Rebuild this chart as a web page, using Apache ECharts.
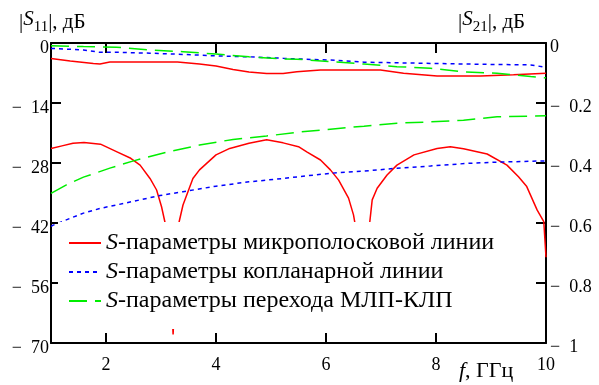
<!DOCTYPE html>
<html><head><meta charset="utf-8">
<script src="https://cdn.jsdelivr.net/npm/echarts@6/dist/echarts.min.js"></script>
<style>html,body{margin:0;padding:0;background:#fff}#c{width:599px;height:385px}</style>
</head><body><div id="c"></div>
<script>
// Frequency ticks (GHz)
const xTicks = [2, 4, 6, 8, 10];
// Legend names
const names = [
  'S-параметры микрополосковой линии',
  'S-параметры копланарной линии',
  'S-параметры перехода МЛП-КЛП'
];
// |S11|, dB (left axis) — [f, dB]
const s11Micro = [[1.0,-24.6],[1.2,-24.0],[1.4,-23.4],[1.6,-23.2],[1.9,-23.6],[2.2,-25.4],[2.45,-26.9],[2.62,-28.5],[2.8,-31.6],[2.92,-34.3],[3.01,-38.2],[3.07,-41.7],[3.13,-47],[3.18,-56],[3.22,-68],[3.26,-57],[3.3,-47],[3.33,-41.7],[3.4,-37.8],[3.58,-31.6],[3.7,-29.6],[4.0,-26.1],[4.25,-24.6],[4.6,-23.4],[4.92,-22.6],[5.22,-23.3],[5.5,-24.2],[5.65,-25.4],[5.9,-27.3],[6.08,-29.6],[6.23,-32],[6.41,-36.2],[6.5,-40.1],[6.58,-46],[6.67,-58],[6.76,-46],[6.84,-36.6],[6.93,-33.9],[7.11,-30.8],[7.29,-28.5],[7.6,-26.1],[8.02,-24.6],[8.26,-24.2],[8.5,-24.7],[8.93,-25.9],[9.29,-28.5],[9.5,-31.2],[9.65,-33.5],[9.84,-39],[9.96,-41.7],[10.0,-50]];
const s11Copl = [[1.0,-42.8],[1.04,-42.5],[1.35,-40.9],[1.59,-39.7],[1.89,-38.6],[2.19,-37.8],[2.62,-36.6],[2.98,-35.6],[3.4,-34.7],[4.0,-33.4],[4.6,-32.4],[5.22,-31.6],[5.5,-31.2],[6.08,-30.4],[6.78,-29.8],[7.29,-29.2],[7.9,-28.7],[8.56,-28.1],[9.11,-27.8],[10.0,-27.5]];
const s11Trans = [[1.0,-35.1],[1.28,-33.1],[1.59,-31.3],[2.07,-29.2],[2.5,-27.5],[3.1,-25.5],[3.7,-23.8],[4.31,-22.5],[4.92,-21.7],[5.5,-20.8],[6.08,-20.1],[6.69,-19.4],[7.29,-18.7],[7.9,-18.4],[8.5,-18.0],[9.11,-17.2],[10.0,-17.0]];
// |S21|, dB (right axis) — [f, dB]
const s21Micro = [[1.0,-0.052],[1.35,-0.06],[1.77,-0.068],[1.89,-0.07],[2.07,-0.063],[2.5,-0.063],[3.3,-0.063],[3.7,-0.07],[4.0,-0.077],[4.31,-0.088],[4.6,-0.097],[4.92,-0.102],[5.22,-0.102],[5.47,-0.096],[5.9,-0.09],[6.99,-0.09],[7.41,-0.101],[8.02,-0.11],[8.81,-0.11],[9.41,-0.106],[10.0,-0.101]];
const s21Copl = [[1.0,-0.018],[1.59,-0.023],[1.89,-0.031],[2.19,-0.031],[2.8,-0.034],[3.4,-0.038],[4.0,-0.043],[4.6,-0.046],[5.22,-0.051],[5.47,-0.053],[6.08,-0.057],[6.69,-0.064],[7.9,-0.068],[8.81,-0.071],[9.72,-0.073],[10.0,-0.081]];
const s21Trans = [[1.0,-0.009],[1.59,-0.012],[2.19,-0.014],[2.8,-0.023],[3.4,-0.029],[4.0,-0.037],[4.6,-0.046],[5.22,-0.053],[5.47,-0.054],[6.08,-0.062],[6.69,-0.07],[7.29,-0.079],[7.9,-0.084],[8.5,-0.096],[9.11,-0.101],[9.72,-0.112],[10.0,-0.116]];

const FONT = '"Liberation Serif","DejaVu Serif",serif';
const RED = '#ff0000', BLUE = '#0000ff', GREEN = '#00ee00';
const styles = [
  {color: RED, type: 'solid'},
  {color: BLUE, type: [4, 4]},
  {color: GREEN, type: [18, 8]}
];
function mkSeries(name, data, yIdx, st) {
  return {
    type: 'line', name: name, data: data, yAxisIndex: yIdx, xAxisIndex: 0,
    showSymbol: false, symbol: 'none', animation: false, silent: true,
    lineStyle: {color: st.color, width: 1.5, type: st.type},
    itemStyle: {color: st.color}
  };
}
const axisLineStyle = {lineStyle: {color: '#000', width: 2}};
const tickStyle = {inside: true, length: 10, lineStyle: {color: '#000', width: 2}};
const SP = '\u2212\u2002';

const chart = echarts.init(document.getElementById('c'), null, {renderer: 'canvas'});
chart.setOption({
  animation: false,
  backgroundColor: '#fff',
  grid: {left: 51, right: 53, top: 43, bottom: 42, containLabel: false},
  xAxis: [{
    type: 'value', min: 1, max: 10, position: 'bottom',
    axisLine: Object.assign({onZero: false}, axisLineStyle),
    axisTick: Object.assign({customValues: xTicks}, tickStyle),
    axisLabel: {customValues: xTicks, color: '#000', fontFamily: FONT, fontSize: 18, margin: 13},
    splitLine: {show: false}
  }, {
    type: 'value', min: 1, max: 10, position: 'top',
    axisLine: Object.assign({onZero: false}, axisLineStyle),
    axisTick: Object.assign({customValues: xTicks}, tickStyle),
    axisLabel: {show: false},
    splitLine: {show: false}
  }],
  yAxis: [{
    type: 'value', min: -70, max: 0, interval: 14, position: 'left',
    axisLine: Object.assign({show: true, onZero: false}, axisLineStyle),
    axisTick: tickStyle,
    axisLabel: {color: '#000', fontFamily: FONT, fontSize: 18, margin: 2,
      formatter: v => '{a|' + (v === 0 ? '0' : SP + Math.abs(v)) + '}',
      rich: {a: {fontFamily: FONT, fontSize: 18, color: '#000', padding: [10, 0, 0, 0]}}},
    splitLine: {show: false}
  }, {
    type: 'value', min: -1, max: 0, interval: 0.2, position: 'right',
    axisLine: Object.assign({show: true, onZero: false}, axisLineStyle),
    axisTick: tickStyle,
    axisLabel: {color: '#000', fontFamily: FONT, fontSize: 18, margin: 4,
      formatter: v => '{a|' + (v === 0 ? '0' : SP + (+Math.abs(v).toFixed(1))) + '}',
      rich: {a: {fontFamily: FONT, fontSize: 18, color: '#000', padding: [8, 0, 0, 0]}}},
    splitLine: {show: false}
  }],
  legend: {
    show: true, orient: 'vertical', left: 58, top: 222,
    data: names, backgroundColor: '#fff', padding: [9, 10, 16, 10],
    itemWidth: 32, itemHeight: 20, itemGap: 5,
    selectedMode: false,
    itemStyle: {opacity: 0},
    lineStyle: {width: 2},
    formatter: n => '{i|S}{t|' + n.slice(1) + '}',
    textStyle: {
      color: '#000', fontFamily: FONT, fontSize: 24, lineHeight: 20,
      rich: {
        i: {fontStyle: 'italic', fontFamily: FONT, fontSize: 24, color: '#000', lineHeight: 20},
        t: {fontFamily: FONT, fontSize: 24, color: '#000', lineHeight: 20}
      }
    }
  },
  series: [
    mkSeries(names[0], s11Micro, 0, styles[0]),
    mkSeries(names[1], s11Copl, 0, styles[1]),
    mkSeries(names[2], s11Trans, 0, styles[2]),
    mkSeries('s21a', s21Micro, 1, styles[0]),
    mkSeries('s21b', s21Copl, 1, styles[1]),
    mkSeries('s21c', s21Trans, 1, styles[2])
  ],
  graphic: [
    {type: 'text', left: 19, top: 9, style: {
      text: '|{i|S}{sub|11}|, дБ', font: '21px ' + FONT, fill: '#000',
      rich: {i: {fontStyle: 'italic', fontSize: 21, fontFamily: FONT, lineHeight: 26, verticalAlign: 'top'},
             sub: {fontSize: 15, fontFamily: FONT, lineHeight: 26, verticalAlign: 'bottom'}}
    }},
    {type: 'text', left: 458, top: 9, style: {
      text: '|{i|S}{sub|21}|, дБ', font: '21px ' + FONT, fill: '#000',
      rich: {i: {fontStyle: 'italic', fontSize: 21, fontFamily: FONT, lineHeight: 26, verticalAlign: 'top'},
             sub: {fontSize: 15, fontFamily: FONT, lineHeight: 26, verticalAlign: 'bottom'}}
    }},
    {type: 'text', left: 459, top: 360, style: {
      text: '{i|f}, ГГц', font: '22px ' + FONT, fill: '#000',
      rich: {i: {fontStyle: 'italic', fontSize: 22, fontFamily: FONT}}
    }}
  ]
});
</script></body></html>
